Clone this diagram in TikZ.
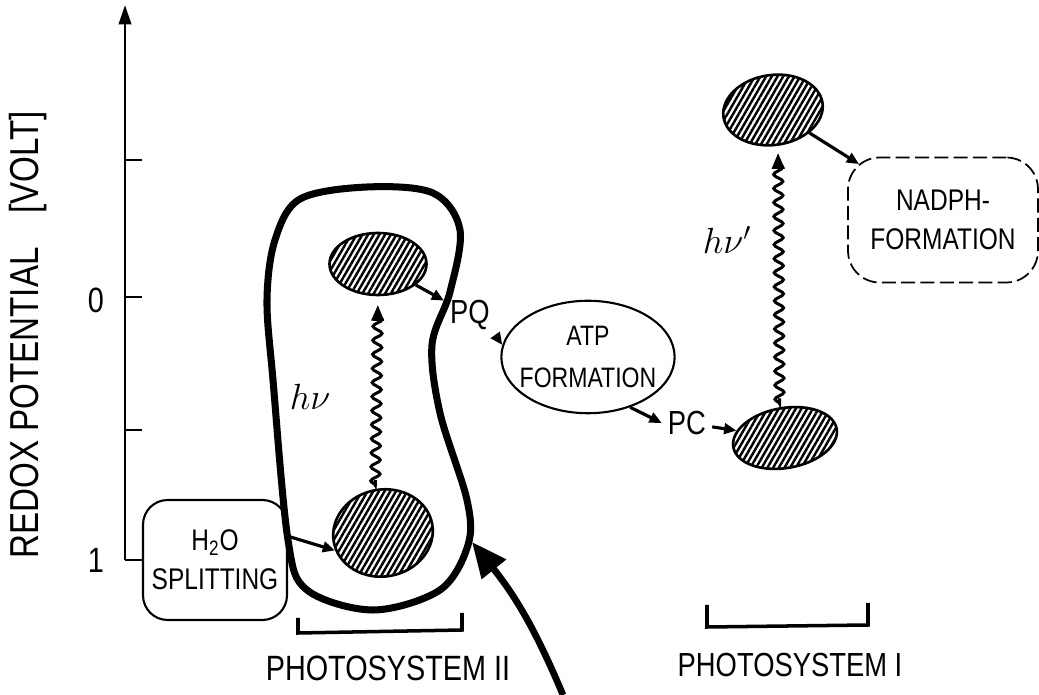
\documentclass[tikz,border=0pt]{standalone}
\usepackage{fontspec}
\setmainfont{Liberation Sans}[FakeStretch=0.82]
\usetikzlibrary{arrows.meta, calc, positioning, shapes.geometric, patterns.meta, decorations.pathmorphing}

\tikzset{
  hatched/.style={ellipse, draw, line width=1.5pt, inner sep=0pt,
    pattern={Lines[angle=60, distance=2.8pt, line width=1.4pt]}},
  redox/.style={-{Triangle[length=7pt, width=6pt]}, line width=1.8pt},
  photon/.style={-{Triangle[length=9pt, width=7pt]}, line width=1.7pt, decorate,
    decoration={snake, amplitude=2.6pt, segment length=8pt, pre length=2pt, post length=9pt}},
  bubble/.style={draw, line width=1.2pt, align=center, font=\fontsize{17}{22}\selectfont},
  hand/.style={font=\fontsize{19}{22}\selectfont},
}

\begin{document}
\begin{tikzpicture}[x=0.02cm, y=-0.02cm]
\useasboundingbox (0,0) rectangle (1039,695);

% boxes and centres
\node[bubble, rounded corners=14pt, minimum width=2.88cm, minimum height=2.4cm] (water) at (215,560) {H\textsubscript{2}O\\SPLITTING};
\node[bubble, ellipse, inner sep=-4pt, minimum width=3.45cm, minimum height=2.25cm,
  font=\fontsize{16}{24}\selectfont] (atp) at (588,357) {ATP\\FORMATION};
\node[bubble, dash pattern=on 8pt off 3pt, line width=1pt, rounded corners=18pt,
  minimum width=3.8cm, minimum height=2.5cm] (nadph) at (943,220) {NADPH-\\FORMATION};
\node[hatched, minimum width=1.94cm, minimum height=1.24cm] (ps2top) at (378,264) {};
\node[hatched, minimum width=2.0cm, minimum height=1.74cm, rotate=10] (ps2low) at (383,533) {};
\node[hatched, minimum width=2.1cm, minimum height=1.2cm, rotate=10] (ps1low) at (785,438) {};
\node[hatched, minimum width=2.0cm, minimum height=1.4cm, rotate=8] (ps1top) at (773,110) {};
\node[hand] (pq) at (470,315) {PQ};
\node[hand] (pc) at (687,423) {PC};
\node[font=\fontsize{20}{24}\selectfont] (hnu) at (310,397) {$h\nu$};
\node[font=\fontsize{20}{24}\selectfont] (hnuprime) at (727,240) {$h\nu'$};

% axis
\draw[line width=1.6pt, -{Triangle[length=11pt, width=7pt]}] (125,560) -- (125,5);
\foreach \y in {160,297,430}
  \draw[line width=1.6pt] (125,\y) -- (142,\y);
\draw[line width=1.6pt] (125,560) -- (water.west);
\node[font=\fontsize{20}{22}\selectfont] (zero) at (96,300) {0};
\node[font=\fontsize{20}{22}\selectfont] (one) at (96,560) {1};
\node[rotate=90, font=\fontsize{23}{26}\selectfont] (axislabel) at (28,335) {REDOX POTENTIAL\hspace{0.6em} [VOLT]};

% photosystem II outline
\draw[line width=4pt, line join=round] plot[smooth cycle, tension=0.55] coordinates {
  (300,199) (367,187) (433,193) (460,230) (450,292) (432,345) (440,413) (467,500)
  (468,545) (440,590) (373,610) (307,590) (288,540) (273,380) (267,300) (275,240)};

% electron flow
\draw[redox] (water.18) -- (ps2low.190);
\draw[redox] (ps2top) -- (pq);
\draw[redox] (pq.south east) -- (atp.172);
\draw[redox] (atp.-50) -- (pc.west);
\draw[redox] (pc) -- (ps1low);
\draw[redox, shorten >=-8pt] (ps1top) -- (nadph.north west);
\draw[photon, shorten <=5pt, shorten >=5pt] (ps2low.north) -- (ps2top.south);
\draw[photon, shorten <=5pt, shorten >=4pt] (ps1low.north) -- (ps1top.south);

% light
\coordinate (sun) at (563,695);
\coordinate (ps2entry) at (472,542);
\draw[line width=3.8pt, -{Triangle[length=20pt, width=17pt]}] (sun) to[bend right=8] (ps2entry);

% brackets
\draw[line width=2pt] (298,618) -- (298,633) -- (462,630) -- (462,613);
\draw[line width=2pt] (707,605) -- (707,627) -- (868,625) -- (868,603);
\node[hand, font=\fontsize{20}{22}\selectfont] (ps2name) at (388,668) {PHOTOSYSTEM II};
\node[hand] (ps1name) at (790,665) {PHOTOSYSTEM I};
\end{tikzpicture}
\end{document}
